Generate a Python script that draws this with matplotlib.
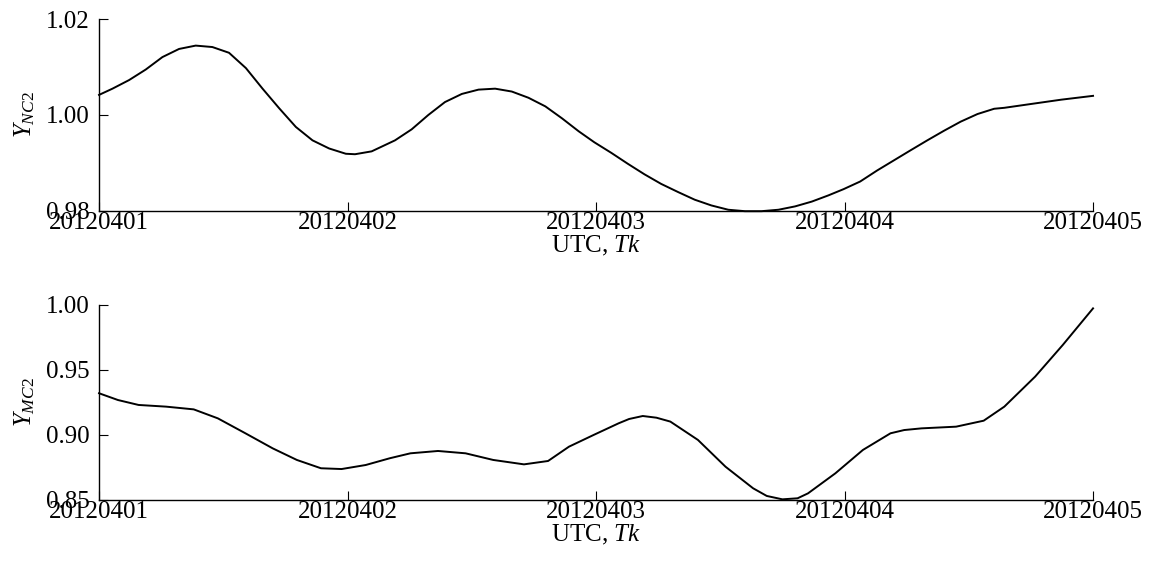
import matplotlib
matplotlib.use("Agg")
import matplotlib.pyplot as plt

plt.rcParams['font.family'] = ['Liberation Serif', 'DejaVu Serif']
plt.rcParams['mathtext.fontset'] = 'custom'
plt.rcParams['mathtext.rm'] = 'Liberation Serif'
plt.rcParams['mathtext.it'] = 'Liberation Serif:italic'

# tick labels (dates) and their positions in days from the first one
date_labels = ['20120401', '20120402', '20120403', '20120404', '20120405']
date_pos = [0, 1, 2, 3, 4]

# top panel: Y_NC2
t_nc = [0, 0.054, 0.121, 0.188, 0.255, 0.322, 0.389, 0.456, 0.523, 0.591,
        0.658, 0.725, 0.792, 0.859, 0.926, 0.993, 1.030, 1.097, 1.191, 1.258,
        1.325, 1.392, 1.460, 1.527, 1.594, 1.661, 1.728, 1.796, 1.863, 1.930,
        1.993, 2.061, 2.128, 2.195, 2.262, 2.330, 2.397, 2.464, 2.532, 2.599,
        2.666, 2.734, 2.801, 2.868, 2.935, 2.996, 3.063, 3.131, 3.198, 3.265,
        3.333, 3.400, 3.467, 3.535, 3.602, 3.643, 3.737, 3.872, 4.0]
y_nc = [1.0042, 1.0055, 1.0073, 1.0095, 1.0121, 1.0138, 1.0145, 1.0142, 1.0130, 1.0098,
        1.0055, 1.0014, 0.9975, 0.9947, 0.9930, 0.9919, 0.9918, 0.9924, 0.9947, 0.9970,
        1.0000, 1.0027, 1.0044, 1.0053, 1.0055, 1.0049, 1.0036, 1.0018, 0.9993, 0.9966,
        0.9943, 0.9921, 0.9898, 0.9876, 0.9856, 0.9839, 0.9823, 0.9811, 0.9802, 0.9799,
        0.9799, 0.9802, 0.9809, 0.9819, 0.9832, 0.9845, 0.9861, 0.9884, 0.9905, 0.9926,
        0.9947, 0.9967, 0.9986, 1.0002, 1.0013, 1.0015, 1.0022, 1.0032, 1.0040]

# bottom panel: Y_MC2
t_mc = [0, 0.076, 0.159, 0.270, 0.381, 0.478, 0.589, 0.699, 0.796, 0.893,
        0.976, 1.073, 1.170, 1.253, 1.364, 1.475, 1.586, 1.710, 1.807, 1.891,
        1.990, 2.091, 2.133, 2.188, 2.243, 2.299, 2.410, 2.521, 2.632, 2.687,
        2.750, 2.811, 2.853, 2.963, 3.074, 3.185, 3.240, 3.310, 3.449, 3.560,
        3.643, 3.767, 3.878, 4.0]
y_mc = [0.9321, 0.9269, 0.9231, 0.9218, 0.9197, 0.9128, 0.9013, 0.8897, 0.8808, 0.8744,
        0.8738, 0.8769, 0.8821, 0.8859, 0.8877, 0.8859, 0.8808, 0.8774, 0.8800, 0.8910,
        0.9000, 0.9090, 0.9123, 0.9146, 0.9133, 0.9103, 0.8962, 0.8756, 0.8590, 0.8531,
        0.8505, 0.8513, 0.8551, 0.8705, 0.8885, 0.9013, 0.9038, 0.9051, 0.9064, 0.9110,
        0.9218, 0.9449, 0.9692, 0.9974]

fig = plt.figure(figsize=(11.49, 5.67), dpi=100)
ax1 = fig.add_axes([0.0862, 0.6284, 0.8651, 0.3376])
ax2 = fig.add_axes([0.0862, 0.1182, 0.8651, 0.3439])


def style_axis(ax, ylim, yticks, ylabel):
    ax.set_xlim(0, 4)
    ax.set_ylim(ylim)
    ax.set_xticks(date_pos)
    ax.set_xticklabels(date_labels)
    ax.set_yticks(yticks)
    ax.set_yticklabels(['%.2f' % v for v in yticks])
    ax.spines['top'].set_visible(False)
    ax.spines['right'].set_visible(False)
    for s in ['left', 'bottom']:
        ax.spines[s].set_linewidth(1.0)
    ax.tick_params(axis='x', direction='in', length=6.5, width=0.8, labelsize=18, pad=1)
    ax.tick_params(axis='y', direction='in', length=6.5, width=0.8, labelsize=18, pad=7)
    ax.set_xlabel('UTC, $Tk$', fontsize=18, labelpad=0)
    ax.set_ylabel(ylabel, fontsize=18, labelpad=6)


ax1.plot(t_nc, y_nc, color='black', lw=1.4, clip_on=False)
style_axis(ax1, (0.98, 1.02), [0.98, 1.00, 1.02], r'$Y_{\mathit{NC2}}$')

ax2.plot(t_mc, y_mc, color='black', lw=1.4, clip_on=False)
style_axis(ax2, (0.85, 1.00), [0.85, 0.90, 0.95, 1.00], r'$Y_{\mathit{MC2}}$')

fig.savefig('out.png', dpi=100)
